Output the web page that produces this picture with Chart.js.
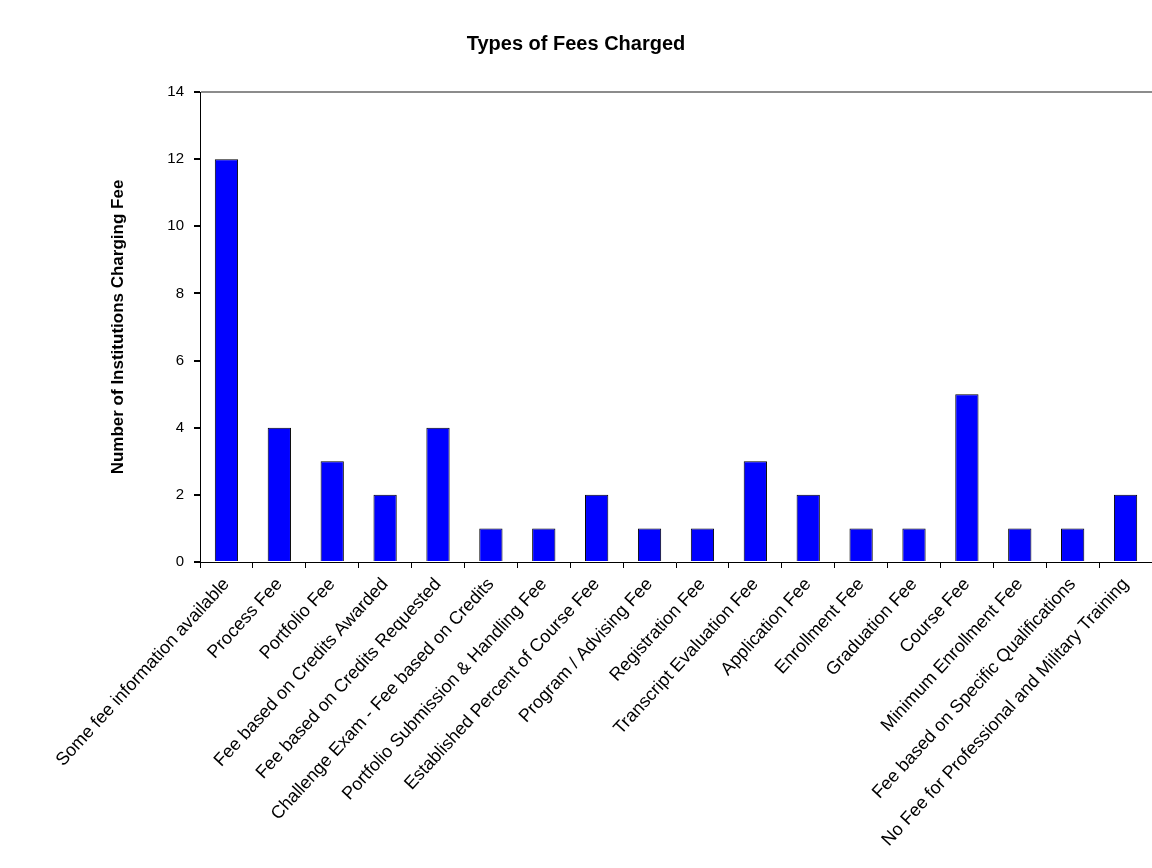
<!DOCTYPE html>
<html>
<head>
<meta charset="utf-8">
<script src="https://cdn.jsdelivr.net/npm/chart.js@4"></script>
<style>
  html, body { margin: 0; padding: 0; background: #fff; }
  #wrap { width: 1152px; height: 868px; }
</style>
</head>
<body>
<div id="wrap"><canvas id="feesChart"></canvas></div>
<script>
  const feeTypes = [
    "Some fee information available",
    "Process Fee",
    "Portfolio Fee",
    "Fee based on Credits Awarded",
    "Fee based on Credits Requested",
    "Challenge Exam - Fee based on Credits",
    "Portfolio Submission & Handling Fee",
    "Established Percent of Course Fee",
    "Program / Advising Fee",
    "Registration Fee",
    "Transcript Evaluation Fee",
    "Application Fee",
    "Enrollment Fee",
    "Graduation Fee",
    "Course Fee",
    "Minimum Enrollment Fee",
    "Fee based on Specific Qualifications",
    "No Fee for Professional and Military Training"
  ];
  const institutionCounts = [12, 4, 3, 2, 4, 1, 1, 2, 1, 1, 3, 2, 1, 1, 5, 1, 1, 2];
  const yTicks = [0, 2, 4, 6, 8, 10, 12, 14];

  const fontFamily = "Arial, 'Liberation Sans', sans-serif";
  const ctx = document.getElementById("feesChart").getContext("2d");

  const chart = new Chart(ctx, {
    type: "bar",
    data: {
      labels: feeTypes,
      datasets: [
        {
          label: "Institutions",
          data: institutionCounts,
          backgroundColor: "#0000ff",
          borderColor: "#000000",
          borderWidth: 1,
          categoryPercentage: 1,
          barPercentage: 0.44,
        },
      ],
    },
    options: {
      responsive: true,
      maintainAspectRatio: false,
      animation: false,
      layout: { padding: { left: 0, right: 0, top: 0, bottom: 0 } },
      scales: {
        x: {
          grid: {
            drawOnChartArea: false,
            tickLength: 6,
            tickColor: "#000",
          },
          border: { color: "#000", width: 1 },
          ticks: {
            autoSkip: false,
            maxRotation: 47.5,
            minRotation: 47.5,
            padding: 6,
            color: "#000",
            font: { family: fontFamily, size: 18 },
          },
          afterFit: (scale) => { scale.height = 306; },
        },
        y: {
          min: 0,
          max: yTicks[yTicks.length - 1],
          afterBuildTicks: (scale) => {
            scale.ticks = yTicks.map((v) => ({ value: v }));
          },
          grid: {
            color: (c) => (c.tick && c.tick.value === 14 ? "#8c8c8c" : "rgba(0,0,0,0)"),
            lineWidth: 2,
            tickLength: 6,
            tickColor: "#000",
          },
          border: { color: "#000", width: 1 },
          ticks: {
            padding: 10,
            color: "#000",
            font: { family: fontFamily, size: 15 },
          },
          title: {
            display: true,
            text: "Number of Institutions Charging Fee",
            color: "#000",
            font: { family: fontFamily, size: 17, weight: "bold" },
            padding: { top: 108, bottom: 0 },
          },
          afterFit: (scale) => { scale.width = 200; },
        },
      },
      plugins: {
        legend: { display: false },
        tooltip: { enabled: false },
        title: {
          display: true,
          text: "Types of Fees Charged",
          color: "#000",
          font: { family: fontFamily, size: 20, weight: "bold" },
          padding: { top: 32, bottom: 36 },
        },
      },
    },
  });
</script>
</body>
</html>
